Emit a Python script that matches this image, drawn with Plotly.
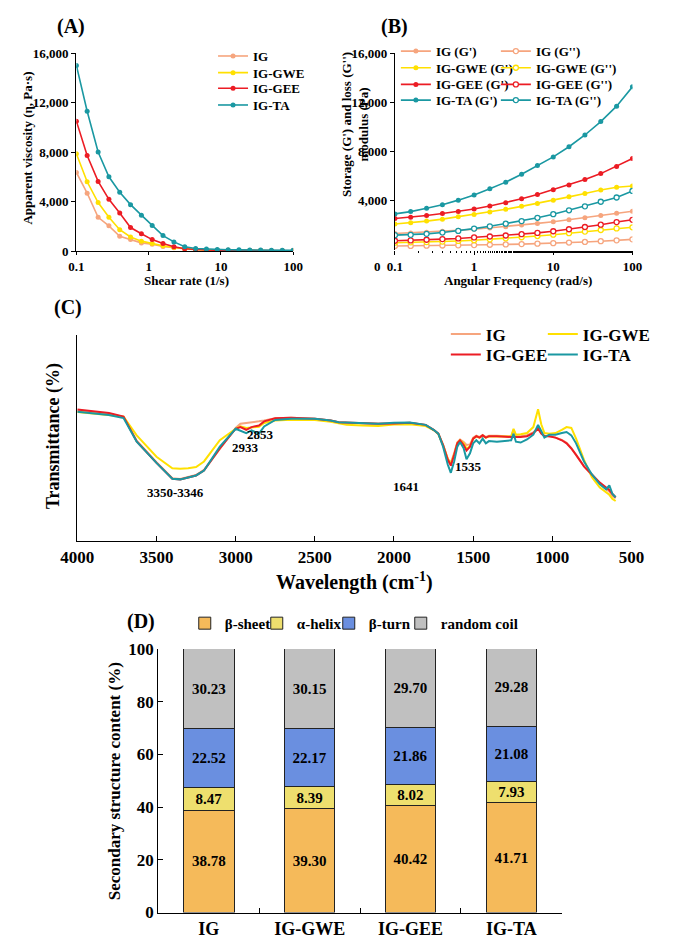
import plotly.graph_objects as go

W, H = 678, 947
FAM = "Liberation Serif, Times New Roman, serif"


def px(x):
    return x / W


def py(y):
    return 1 - y / H


def F(size, color="black"):
    return dict(family=FAM, size=size, color=color, weight="bold")


# ---------------- Panel A data: apparent viscosity ----------------
shear_rate = [0.1, 0.141, 0.2, 0.282, 0.398, 0.562, 0.794, 1.12, 1.58, 2.24, 3.16,
              4.47, 6.31, 8.91, 12.6, 17.8, 25.1, 35.5, 50.1, 70.8, 100]
visc_IG = [6350, 4680, 2730, 2040, 1190, 930, 660, 555, 370, 265, 160,
           110, 80, 60, 50, 40, 35, 30, 30, 25, 25]
visc_GWE = [7860, 5600, 3920, 2730, 1720, 1140, 800, 610, 420, 290, 180,
            120, 90, 70, 55, 45, 40, 35, 30, 30, 25]
visc_GEE = [10500, 7720, 5630, 4180, 3070, 1900, 1400, 925, 610, 344, 185,
            110, 80, 65, 55, 45, 40, 35, 30, 30, 25]
visc_TA = [15000, 11300, 8000, 6000, 4750, 3750, 2900, 2060, 1250, 740, 345,
           210, 160, 130, 110, 95, 85, 75, 70, 65, 60]

# ---------------- Panel B data: G' and G'' ----------------
freq = [0.1, 0.158, 0.251, 0.398, 0.631, 1, 1.58, 2.51, 3.98, 6.31, 10, 15.8, 25.1, 39.8, 63.1, 100]
Gp_IG = [1343, 1396, 1449, 1529, 1609, 1689, 1795, 1902, 2035, 2168, 2301, 2460, 2620, 2806, 2992, 3150]
Gp_GWE = [2114, 2221, 2354, 2513, 2699, 2886, 3098, 3311, 3551, 3790, 4056, 4322, 4588, 4880, 5100, 5200]
Gp_GEE = [2566, 2673, 2806, 2965, 3125, 3338, 3577, 3843, 4162, 4508, 4907, 5279, 5731, 6210, 6795, 7434]
Gp_TA = [2939, 3125, 3391, 3684, 4056, 4481, 4987, 5519, 6157, 6875, 7566, 8391, 9348, 10439, 11689, 13258]
Gpp_IG = [330, 340, 355, 370, 385, 405, 430, 455, 485, 520, 560, 610, 660, 720, 790, 870]
Gpp_GWE = [600, 625, 650, 690, 740, 800, 870, 950, 1040, 1140, 1250, 1370, 1500, 1630, 1760, 1850]
Gpp_GEE = [758, 785, 838, 891, 944, 1024, 1104, 1184, 1290, 1396, 1529, 1689, 1875, 2061, 2274, 2460]
Gpp_TA = [1210, 1237, 1316, 1423, 1556, 1742, 1928, 2141, 2354, 2620, 2912, 3231, 3551, 3923, 4269, 4801]

# ---------------- Panel C data: FTIR spectra (relative transmittance) ----------------
wavenumber = [4000, 3900, 3800, 3708, 3625, 3500, 3400, 3350, 3300, 3250, 3200, 3100,
              3000, 2970, 2933, 2900, 2853, 2820, 2750, 2650, 2500, 2400, 2350, 2300,
              2200, 2100, 2000, 1900, 1800, 1750, 1720, 1690, 1660, 1641, 1620, 1600,
              1583, 1560, 1542, 1520, 1500, 1480, 1460, 1440, 1420, 1400, 1350, 1300,
              1260, 1245, 1230, 1200, 1160, 1120, 1090, 1070, 1050, 1020, 980, 940,
              910, 880, 850, 800, 750, 700, 660, 640, 620, 600]
ftir_IG = [63.5, 62.5, 61.8, 60.4, 48.8, 38.3, 30.6, 30.2, 31.3, 32.1, 34.6, 44.8,
           55.0, 57.0, 57.3, 57.6, 58.2, 58.6, 59.7, 60.0, 59.4, 58.6, 57.8, 57.5,
           57.2, 57.0, 57.2, 57.4, 56.3, 54.1, 52.2, 46.9, 40.0, 38.0, 42.8, 48.0,
           49.4, 48.2, 46.7, 47.0, 50.2, 51.2, 50.6, 51.6, 50.6, 51.2, 51.2, 50.8,
           50.8, 54.0, 51.0, 51.0, 51.5, 52.8, 55.0, 52.5, 51.2, 51.0, 50.3, 49.2,
           47.8, 45.2, 42.0, 36.3, 32.0, 28.0, 25.2, 24.0, 22.0, 20.8]
ftir_GWE = [62.7, 62.0, 61.2, 60.5, 51.4, 41.0, 35.4, 35.2, 35.4, 36.0, 38.7, 49.0,
            54.6, 55.8, 55.0, 55.4, 55.6, 57.4, 58.6, 59.0, 58.9, 58.0, 57.2, 56.5,
            56.2, 55.9, 56.7, 56.8, 55.9, 54.0, 52.0, 46.5, 39.8, 37.5, 42.0, 47.5,
            49.0, 47.5, 45.0, 46.0, 49.8, 50.8, 50.3, 51.2, 50.3, 50.8, 50.8, 50.6,
            50.8, 54.6, 51.7, 51.9, 52.5, 55.4, 64.1, 56.8, 52.5, 52.2, 52.5, 54.0,
            55.4, 55.0, 49.8, 39.5, 31.0, 26.0, 23.7, 22.5, 20.5, 19.5]
ftir_GEE = [64.0, 63.0, 62.2, 60.5, 48.4, 38.0, 30.3, 30.0, 31.1, 31.9, 34.3, 45.0,
            54.6, 55.4, 54.1, 55.4, 56.2, 58.2, 59.7, 60.0, 59.4, 58.6, 57.8, 57.6,
            57.3, 57.0, 57.2, 57.5, 56.5, 54.1, 52.2, 46.7, 39.5, 36.7, 41.9, 47.5,
            49.0, 46.7, 44.0, 45.9, 49.8, 51.0, 50.3, 51.4, 50.3, 51.0, 51.0, 50.6,
            50.6, 50.6, 50.6, 50.6, 51.0, 52.5, 54.6, 52.2, 51.0, 51.0, 50.3, 49.0,
            47.5, 45.0, 41.9, 36.3, 32.4, 28.4, 26.0, 24.8, 22.9, 21.3]
ftir_TA = [62.9, 62.0, 61.3, 59.8, 48.3, 38.0, 30.3, 30.0, 31.1, 31.9, 34.3, 45.9,
           54.6, 53.8, 52.5, 53.8, 52.2, 55.7, 58.9, 59.4, 59.4, 58.6, 57.8, 57.6,
           57.3, 57.0, 57.5, 57.6, 56.5, 54.1, 52.2, 45.9, 37.1, 33.2, 38.7, 45.9,
           48.2, 45.1, 39.8, 42.7, 47.5, 49.0, 47.5, 49.8, 47.5, 48.6, 48.3, 48.6,
           49.0, 52.2, 48.3, 47.9, 49.4, 51.7, 56.5, 53.5, 50.3, 51.7, 51.7, 52.5,
           53.0, 51.4, 47.5, 38.7, 32.4, 27.6, 25.2, 27.1, 22.9, 21.3]

# ---------------- Panel D data: secondary structure ----------------
samples = ["IG", "IG-GWE", "IG-GEE", "IG-TA"]
beta_sheet = [38.78, 39.30, 40.42, 41.71]
alpha_helix = [8.47, 8.39, 8.02, 7.93]
beta_turn = [22.52, 22.17, 21.86, 21.08]
random_coil = [30.23, 30.15, 29.70, 29.28]

# colours
C_IG = "#F6A57E"
C_GWE = "#FFE000"
C_GEE = "#EC1C24"
C_TA = "#1A98A2"

fig = go.Figure()
legends = {}
legend_counter = [0]


def new_legend(text_x, y_px, size):
    legend_counter[0] += 1
    name = "legend" if legend_counter[0] == 1 else f"legend{legend_counter[0]}"
    legends[name] = dict(x=px(text_x - 40), y=py(y_px), xanchor="left", yanchor="middle",
                         orientation="h", bgcolor="rgba(0,0,0,0)", font=F(size),
                         borderwidth=0, traceorder="normal", entrywidthmode="pixels")
    return name


# ---- Panel A ----
for nm, vals, col, yrow in [("IG", visc_IG, C_IG, 48), ("IG-GWE", visc_GWE, C_GWE, 65),
                            ("IG-GEE", visc_GEE, C_GEE, 81), ("IG-TA", visc_TA, C_TA, 98)]:
    lg = new_legend(248, yrow, 13)
    fig.add_trace(go.Scatter(x=shear_rate, y=vals, name=nm, mode="lines+markers",
                             line=dict(color=col, width=1.6), marker=dict(color=col, size=5),
                             xaxis="x", yaxis="y", legend=lg, legendwidth=90))

# ---- Panel B ----
rowsB = [("IG", Gp_IG, Gpp_IG, C_IG, 43), ("IG-GWE", Gp_GWE, Gpp_GWE, C_GWE, 60),
         ("IG-GEE", Gp_GEE, Gpp_GEE, C_GEE, 77), ("IG-TA", Gp_TA, Gpp_TA, C_TA, 93)]
for nm, gp, gpp, col, yrow in rowsB:
    lg = new_legend(442, yrow, 13)
    fig.add_trace(go.Scatter(x=freq, y=gp, name=f"{nm} (G')", mode="lines+markers",
                             line=dict(color=col, width=1.6), marker=dict(color=col, size=5),
                             xaxis="x2", yaxis="y2", legend=lg, legendwidth=55))
    fig.add_trace(go.Scatter(x=freq, y=gpp, name=f"{nm} (G'')", mode="lines+markers",
                             line=dict(color=col, width=1.6),
                             marker=dict(color="white", size=5, symbol="circle",
                                         line=dict(color=col, width=1.3)),
                             xaxis="x2", yaxis="y2", legend=lg, legendwidth=100))

# ---- Panel C ----
lgC1 = new_legend(495, 332, 17)
lgC2 = new_legend(495, 353, 17)
for nm, vals, col, lg, lw in [("IG", ftir_IG, C_IG, lgC1, 52), ("IG-GWE", ftir_GWE, C_GWE, lgC1, 90),
                              ("IG-GEE", ftir_GEE, C_GEE, lgC2, 52), ("IG-TA", ftir_TA, C_TA, lgC2, 90)]:
    fig.add_trace(go.Scatter(x=wavenumber, y=vals, name=nm, mode="lines",
                             line=dict(color=col, width=2), xaxis="x3", yaxis="y3",
                             legend=lg, legendwidth=lw))

# ---- Panel D ----
lgD = new_legend(218, 627, 15)
for nm, vals, col, lw in [("β-sheet", beta_sheet, "#F5BA5A", 27), ("α-helix", alpha_helix, "#EEDF6E", 27),
                          ("β-turn", beta_turn, "#6A8FE0", 27), ("random coil", random_coil, "#C0C0C0", 100)]:
    fig.add_trace(go.Bar(x=samples, y=vals, name=nm, width=0.5,
                         marker=dict(color=col, line=dict(color="#222222", width=1)),
                         text=[f"{v:.2f}" for v in vals], textposition="inside",
                         insidetextanchor="middle", textangle=0, constraintext="none",
                         textfont=F(15), xaxis="x4", yaxis="y4", legend=lgD, legendwidth=lw))

axis_common = dict(showgrid=False, zeroline=False, linecolor="black", linewidth=1.2,
                   tickcolor="black", tickfont=F(13))

layout = dict(
    width=W, height=H, margin=dict(l=0, r=0, t=0, b=0),
    paper_bgcolor="white", plot_bgcolor="white",
    font=F(13), barmode="stack", showlegend=True,
    xaxis=dict(axis_common, type="log", domain=[px(63), px(293)], range=[-1, 2], anchor="y",
               showline=True, ticks="outside", ticklen=3,
               tickvals=[0.1, 1, 10, 100], ticktext=["0.1", "1", "10", "100"]),
    yaxis=dict(axis_common, domain=[py(247), py(45)], range=[0, 16000], anchor="x",
               showline=True, ticks="outside", ticklen=4,
               tickvals=[0, 4000, 8000, 12000, 16000],
               ticktext=["0", "4,000", "8,000", "12,000", "16,000"]),
    xaxis2=dict(axis_common, type="log", domain=[px(401), px(653)], range=[-1, 2], anchor="y2",
                showline=False, ticks="outside", ticklen=4,
                tickvals=[0.1, 1, 10, 100], ticktext=["0.1", "1", "10", "100"],
                minor=dict(ticks="outside", ticklen=2, tickcolor="black", showgrid=False)),
    yaxis2=dict(axis_common, domain=[py(246), py(45)], range=[0, 16000], anchor="x2",
                showline=True, ticks="outside", ticklen=4,
                tickvals=[4000, 8000, 12000, 16000],
                ticktext=["4,000", "8,000", "12,000", "16,000"]),
    xaxis3=dict(axis_common, domain=[px(64), px(652)], range=[4000, 500], anchor="y3",
                showline=True, ticks="inside", ticklen=5, tickfont=F(17),
                tickvals=[4000, 3500, 3000, 2500, 2000, 1500, 1000, 500]),
    yaxis3=dict(axis_common, domain=[py(543), py(333)], range=[0, 100], anchor="x3",
                showline=True, ticks="", showticklabels=False),
    xaxis4=dict(axis_common, domain=[px(150), px(578)], range=[-0.5, 3.5], anchor="y4",
                showline=True, ticks="inside", ticklen=5, tickson="boundaries",
                tickfont=F(18), type="category"),
    yaxis4=dict(axis_common, domain=[py(922), py(653)], range=[0, 100], anchor="x4",
                showline=True, ticks="inside", ticklen=5, dtick=20, tickfont=F(17)),
)
layout.update(legends)


def ann(text, x, y, size, angle=0, xref="paper", yref="paper"):
    if xref == "paper":
        x = px(x)
    if yref == "paper":
        y = py(y)
    return dict(text=text, x=x, y=y, xref=xref, yref=yref, showarrow=False,
                textangle=angle, font=F(size), xanchor="center", yanchor="middle")


annotations = [
    ann("(A)", 57, 18, 20), ann("(B)", 401, 18, 20), ann("(C)", 54, 305, 20), ann("(D)", 132, 625, 20),
    ann("Apparent viscosity (η, Pa·s)", 11, 142, 13, -90),
    ann("Shear rate (1/s)", 180, 277, 13),
    ann("Storage (G') and loss (G'')<br>modulus (Pa)", 358, 118, 13, -90),
    ann("Angular Frequency (rad/s)", 532, 277, 13),
    ann("0", 382, 263, 13),
    ann("Transmittance (%)", 38, 436, 18, -90),
    ann("Wavelength (cm<sup>-1</sup>)", 358, 584, 20),
    ann("Secondary structure content (%)", 103, 788, 17, -90),
    ann("3350-3346", 3381, 23.8, 13, xref="x3", yref="y3"),
    ann("2933", 2935, 45.7, 13, xref="x3", yref="y3"),
    ann("2853", 2845, 51.9, 13, xref="x3", yref="y3"),
    ann("1641", 1923, 26.7, 13, xref="x3", yref="y3"),
    ann("1535", 1530, 36.2, 13, xref="x3", yref="y3"),
]
layout["annotations"] = annotations

fig.update_layout(**layout)
fig.write_html("out.html", config={"displayModeBar": False, "staticPlot": True},
               post_script="document.body.style.margin='0px';document.body.style.overflow='hidden';")
